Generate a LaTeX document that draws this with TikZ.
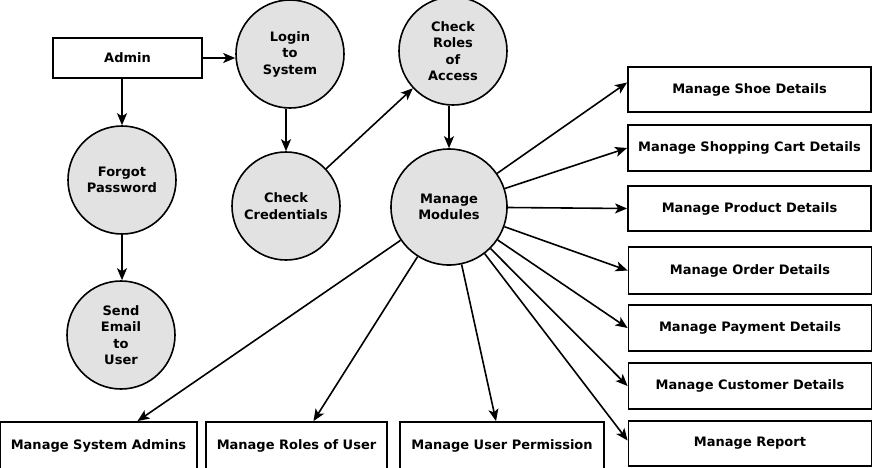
\documentclass[tikz,border=0pt]{standalone}
\usepackage{fontspec}
\setmainfont{DejaVu Sans}
\usetikzlibrary{arrows.meta,calc}
\definecolor{procfill}{RGB}{226,226,226}
\tikzset{
  every node/.style={font=\bfseries\fontsize{13}{16.5}\selectfont, inner sep=0pt},
  proc/.style={circle, draw=black, line width=1.6pt, fill=procfill, minimum size=108pt, align=center},
  ent/.style={rectangle, draw=black, line width=1.8pt, fill=white, align=center},
  arr/.style={line width=1.6pt, -{Stealth[length=12pt,width=10pt,inset=3pt]}},
}
\begin{document}
\begin{tikzpicture}[x=1pt,y=-1pt]
\clip (0,0) rectangle (872,467);
\fill[white] (0,0) rectangle (872,467);
% processes
\node[proc] (login) at (290,54) {Login\\to\\System};
\node[proc] (cred) at (286,206) {Check\\Credentials};
\node[proc] (forgot) at (122,180) {Forgot\\Password};
\node[proc] (send) at (121,335) {Send\\Email\\to\\User};
\node[proc] (roles) at (453,51) {Check\\Roles\\of\\Access};
\node[proc, minimum size=116pt] (mm) at (449,207) {Manage\\Modules};
% entities
\node[ent, minimum width=149pt, minimum height=40pt] (admin) at (127.5,58) {Admin};
\node[ent, minimum width=243pt, minimum height=45pt] (shoe) at (749.5,89.5) {Manage Shoe Details};
\node[ent, minimum width=243pt, minimum height=46pt] (cart) at (749.5,148) {Manage Shopping Cart Details};
\node[ent, minimum width=243pt, minimum height=45pt] (prod) at (749.5,208.5) {Manage Product Details};
\node[ent, minimum width=243pt, minimum height=47pt] (order) at (750,270.5) {Manage Order Details};
\node[ent, minimum width=243pt, minimum height=46pt] (pay) at (750,328) {Manage Payment Details};
\node[ent, minimum width=243pt, minimum height=46pt] (cust) at (750,386) {Manage Customer Details};
\node[ent, minimum width=243pt, minimum height=45pt] (report) at (750,443.5) {Manage Report};
\node[ent, minimum width=197pt, minimum height=47pt] (sa) at (98.5,445.5) {Manage System Admins};
\node[ent, minimum width=181pt, minimum height=47pt] (ru) at (296.5,445.5) {Manage Roles of User};
\node[ent, minimum width=204pt, minimum height=47pt] (up) at (502,445.5) {Manage User Permission};
% flows
\draw[arr] (admin.east) -- (admin.east -| login.west);
\draw[arr] (admin.south -| forgot.north) -- (forgot.north);
\draw[arr] (forgot.south |- forgot.south) -- (forgot.south |- send.north);
\draw[arr] (cred.north |- login.south) -- (cred.north);
\draw[arr] (cred) -- (roles);
\draw[arr] (mm.north |- roles.south) -- (mm.north);
\coordinate (shoeend) at ($(shoe.west)+(0,-7)$);
\coordinate (repend) at ($(report.west)+(0,-3)$);
\coordinate (saend) at ($(sa.north)+(39,0)$);
\coordinate (ruend) at ($(ru.north)+(17,0)$);
\coordinate (upend) at ($(up.north)+(-6,0)$);
\draw[arr] (mm) -- (shoeend);
\draw[arr] (mm) -- (cart.west);
\draw[arr] (mm) -- (prod.west);
\draw[arr] (mm) -- (order.west);
\draw[arr] (mm) -- (pay.west);
\draw[arr] (mm) -- (cust.west);
\draw[arr] (mm) -- (repend);
\draw[arr] (mm) -- (upend);
\draw[arr] (mm) -- (ruend);
\draw[arr] (mm) -- (saend);
\end{tikzpicture}
\end{document}
